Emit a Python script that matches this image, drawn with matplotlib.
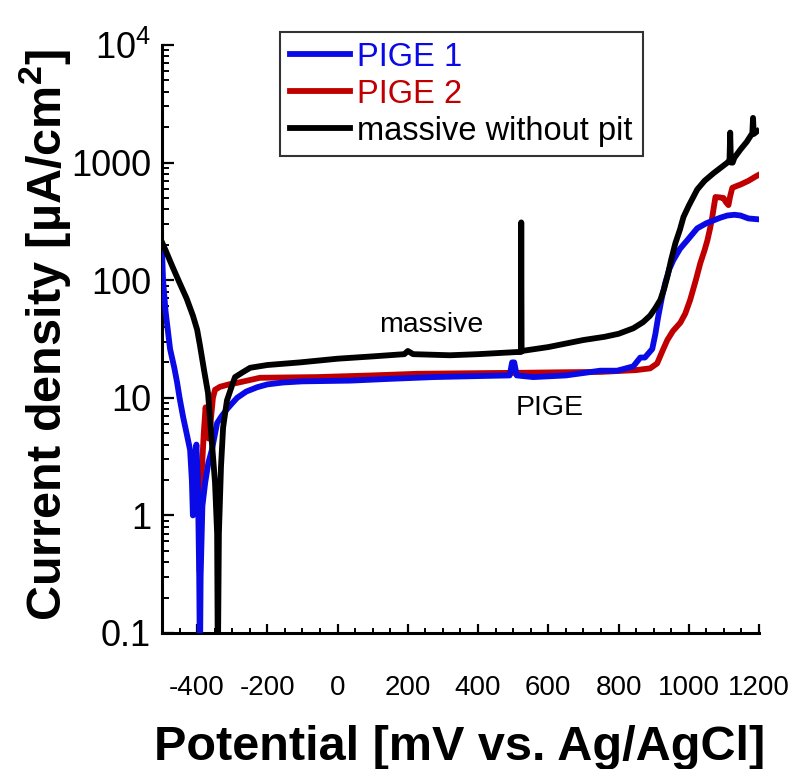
import numpy as np
import matplotlib
matplotlib.use("Agg")
import matplotlib.pyplot as plt
from matplotlib.ticker import MultipleLocator, LogLocator, NullFormatter

plt.rcParams['font.family'] = ['Liberation Sans', 'DejaVu Sans']
plt.rcParams['mathtext.fontset'] = 'custom'
plt.rcParams['mathtext.rm'] = 'Liberation Sans'
plt.rcParams['mathtext.bf'] = 'Liberation Sans:bold'
plt.rcParams['axes.unicode_minus'] = False

## data (potential in mV, current density in uA/cm2)
pige1_x = [-500, -497, -490, -477, -465, -457, -450, -440, -430, -420, -415, -412, -408, -402,
           -398, -394, -392, -390, -385, -377, -368, -358, -343, -330, -315, -300, -286, -260,
           -229, -200, -155, -100, 36, 150, 272, 400, 490, 497, 503, 510, 557, 650, 748, 796,
           842, 862, 875, 896, 905, 913, 923, 933, 945, 956, 975, 996, 1024, 1050, 1070, 1090,
           1110, 1130, 1147, 1170, 1195]
pige1_y = [180, 100, 55, 26, 18, 13.5, 10, 6.9, 5, 3.6, 2, 1.0, 2.5, 4,
           2, 0.3, 0.05, 0.3, 1.2, 1.9, 2.8, 3.6, 6.1, 7, 8, 9, 10, 11.3,
           12.3, 13, 13.5, 13.8, 14, 14.5, 15, 15.3, 15.5, 20, 20, 15.5, 15, 15.5, 17, 17,
           18.5, 22, 22, 26, 35, 49, 70, 95, 125, 148, 185, 219, 276, 305, 322, 340,
           355, 360, 355, 335, 330]

pige2_x = [-393, -390, -386, -381, -376, -371, -367, -362, -355, -349, -335, -310, -286, -221,
           -58, 100, 227, 400, 511, 650, 748, 850, 890, 910, 925, 939, 955, 976, 990, 1004,
           1020, 1033, 1045, 1053, 1060, 1067, 1072, 1076, 1090, 1099, 1106, 1113, 1118, 1124,
           1135, 1147, 1170, 1190, 1197]
pige2_y = [0.35, 1.0, 2.6, 5, 8.3, 7, 4.5, 6, 10, 11.7, 12.4, 13, 13.4, 14.8,
           15, 15.5, 16, 16.2, 16.3, 16.5, 16.6, 17.2, 17.8, 19.6, 25, 31, 37, 43.5, 52, 68,
           100, 140, 180, 218, 270, 345, 430, 510, 505, 500, 460, 435, 520, 610,
           630, 650, 700, 760, 780]

massive_x = [-500, -490, -470, -450, -430, -412, -400, -392, -380, -369, -358, -349, -343, -341,
             -338, -332, -326, -315, -300, -292, -270, -249, -200, -107, 0, 100, 190, 200, 215,
             320, 400, 511, 522, 523, 524, 600, 700, 760, 800, 842, 870, 890, 905, 919, 930,
             939, 950, 962, 975, 985, 1000, 1024, 1045, 1070, 1090, 1110, 1116, 1118, 1120,
             1125, 1130, 1147, 1165, 1181, 1183, 1185, 1195]
massive_y = [210, 180, 130, 95, 70, 50, 38, 28, 17, 11, 4.2, 1.9, 0.7, 0.05,
             0.7, 2.6, 5.6, 9.5, 12.9, 15, 16.5, 18, 19, 20, 21.5, 22.5, 23.5, 25, 23.5,
             23, 23.5, 24.5, 24.5, 310, 25, 27, 31, 33, 35, 39, 44, 50, 58, 68, 85,
             107, 150, 207, 270, 345, 430, 590, 700, 810, 900, 1000, 1050, 1800, 1000,
             1000, 1100, 1290, 1500, 1780, 2400, 1750, 1850]

ytick_vals = [0.1, 1, 10, 100, 1000, 10000]
ytick_labels = ['0.1', '1', '10', '100', '1000', '10$^{4}$']

fig = plt.figure(figsize=(7.89, 7.69), dpi=100)
ax = fig.add_axes([162/789, 1-633/769, 597/789, 588/769])

ax.plot(pige1_x, pige1_y, color='#0a0ae6', lw=4.2, label='PIGE 1', zorder=3)
ax.plot(pige2_x, pige2_y, color='#c00000', lw=4.2, label='PIGE 2', zorder=2)
ax.plot(massive_x, massive_y, color='black', lw=4.2, label='massive without pit', zorder=4)

ax.set_yscale('log')
ax.set_xlim(-500, 1200)
ax.set_ylim(0.1, 10000)
ax.set_yticks(ytick_vals)
ax.set_yticklabels(ytick_labels)
ax.yaxis.set_minor_locator(LogLocator(base=10, subs=np.arange(2, 10)))
ax.yaxis.set_minor_formatter(NullFormatter())
ax.xaxis.set_major_locator(MultipleLocator(200))
ax.xaxis.set_minor_locator(MultipleLocator(50))

for s in ['top', 'right']:
    ax.spines[s].set_visible(False)
for s in ['left', 'bottom']:
    ax.spines[s].set_linewidth(2.2)

ax.tick_params(axis='y', which='major', direction='in', length=8.5, width=1.6, labelsize=26, pad=8)
ax.tick_params(axis='y', which='minor', direction='in', length=5, width=1.4)
ax.tick_params(axis='x', which='major', direction='in', length=6.5, width=1.6, labelsize=20, pad=30)
ax.tick_params(axis='x', which='minor', direction='in', length=3.6, width=1.4)

fig.text(460/789, 1-760/769, 'Potential [mV vs. Ag/AgCl]', fontsize=35, fontweight='bold',
         ha='center', va='baseline')
fig.text(46/789, 1-335/769, r'Current density [µA/cm$^{\mathbf{2}}$]', fontsize=35,
         fontweight='bold', rotation=90, ha='center', va='center')

ax.text(266, 42, 'massive', fontsize=20.5, ha='center', va='center')
ax.text(605, 8.2, 'PIGE', fontsize=20.5, ha='center', va='center')

leg = ax.legend(loc='upper left', bbox_to_anchor=(280/789, 1-32/769), bbox_transform=fig.transFigure,
                fontsize=23.5, frameon=True, fancybox=False, handlelength=1.85, handletextpad=0.22,
                labelspacing=0.18, borderpad=0.3, borderaxespad=0)
leg.get_frame().set_edgecolor('black')
leg.get_frame().set_linewidth(1.5)
for txt, line in zip(leg.get_texts(), leg.get_lines()):
    txt.set_color(line.get_color())

plt.savefig('out.png', dpi=100)
